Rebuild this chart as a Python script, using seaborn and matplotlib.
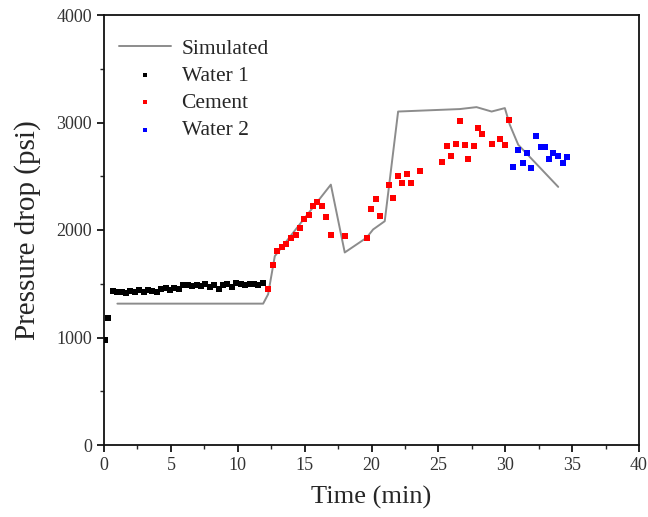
import matplotlib
matplotlib.use("Agg")
import matplotlib.pyplot as plt
import seaborn as sns
import pandas as pd
from matplotlib.ticker import MultipleLocator

# ---- data ----
sim_t = [1.0, 11.9, 12.27, 12.77, 16.96, 18.0, 19.63, 20.12, 20.99, 21.99, 26.6, 27.85, 28.98, 29.97, 30.34, 30.97, 33.96]
sim_p = [1315, 1315, 1402, 1757, 2422, 1791, 1928, 2005, 2082, 3102, 3125, 3143, 3102, 3134, 2979, 2793, 2401]

water1_t = [0.05, 0.3, 0.65, 0.98, 1.31, 1.64, 1.97, 2.3, 2.63, 2.96, 3.29, 3.62, 3.95, 4.28, 4.61, 4.94,
            5.27, 5.6, 5.93, 6.26, 6.59, 6.92, 7.25, 7.58, 7.91, 8.24, 8.57, 8.9, 9.23, 9.56, 9.89,
            10.22, 10.55, 10.88, 11.21, 11.54, 11.87]
water1_p = [980, 1180, 1430, 1420, 1425, 1415, 1430, 1420, 1440, 1425, 1445, 1435, 1420, 1450, 1460, 1440,
            1465, 1455, 1490, 1485, 1480, 1490, 1475, 1495, 1470, 1485, 1450, 1490, 1500, 1470, 1505,
            1495, 1490, 1500, 1495, 1485, 1505]

cement_t = [12.27, 12.64, 12.97, 13.31, 13.64, 13.96, 14.32, 14.64, 14.96, 15.31, 15.63, 15.96, 16.31, 16.63,
            16.96, 18.0, 19.65, 19.95, 20.3, 20.62, 21.29, 21.62, 21.99, 22.29, 22.62, 22.96, 23.61,
            25.28, 25.61, 25.93, 26.3, 26.6, 26.96, 27.25, 27.63, 27.95, 28.27, 28.98, 29.62, 29.95, 30.25]
cement_p = [1448, 1674, 1804, 1844, 1866, 1925, 1950, 2014, 2098, 2144, 2227, 2258, 2227, 2119,
            1950, 1943, 1925, 2200, 2290, 2134, 2416, 2299, 2506, 2438, 2524, 2438, 2552,
            2633, 2784, 2691, 2800, 3010, 2787, 2661, 2778, 2948, 2896, 2800, 2846, 2787, 3019]

water2_t = [30.59, 30.92, 31.29, 31.64, 31.91, 32.27, 32.71, 32.96, 33.26, 33.58, 33.96, 34.29, 34.58]
water2_p = [2583, 2741, 2624, 2713, 2577, 2871, 2769, 2769, 2663, 2716, 2685, 2624, 2680]

x_ticks = [0, 5, 10, 15, 20, 25, 30, 35, 40]
y_ticks = [0, 1000, 2000, 3000, 4000]

# ---- style ----
sns.set_style("ticks")
plt.rcParams["font.family"] = ["Liberation Serif", "DejaVu Serif"]

fig = plt.figure(figsize=(6.48, 5.17), dpi=100)
ax = fig.add_axes([104 / 648, 1 - 445 / 517, (639 - 104) / 648, (445 - 15) / 517])

sim_df = pd.DataFrame({"t": sim_t, "p": sim_p})
sns.lineplot(data=sim_df, x="t", y="p", ax=ax, color="#8c8c8c", linewidth=1.4,
             label="Simulated", sort=False, estimator=None)

for tt, pp, col, lab in [(water1_t, water1_p, "black", "Water 1"),
                          (cement_t, cement_p, "#ff0000", "Cement"),
                          (water2_t, water2_p, "#0000ff", "Water 2")]:
    df = pd.DataFrame({"t": tt, "p": pp})
    sns.scatterplot(data=df, x="t", y="p", ax=ax, color=col, marker="s", s=15,
                    linewidth=0, label=lab, zorder=3)

ax.set_xlim(0, 40)
ax.set_ylim(0, 4000)
ax.set_xticks(x_ticks)
ax.set_yticks(y_ticks)
ax.xaxis.set_minor_locator(MultipleLocator(2.5))
ax.yaxis.set_minor_locator(MultipleLocator(500))
ax.tick_params(axis="both", which="major", direction="out", length=5, width=1.2,
               labelsize=13, colors="black", labelcolor="#333333", top=False, right=False)
ax.tick_params(axis="both", which="minor", direction="out", length=3, width=1.0,
               top=False, right=False)
for sp in ax.spines.values():
    sp.set_visible(True)
    sp.set_linewidth(1.3)
    sp.set_color("#111111")

ax.set_xlabel("Time (min)", fontsize=19, labelpad=9)
ax.set_ylabel("Pressure drop (psi)", fontsize=21, labelpad=11)

leg = ax.legend(loc="upper left", frameon=False, fontsize=15.5, handlelength=2.4,
                handletextpad=0.5, labelspacing=0.33, borderaxespad=0.3,
                bbox_to_anchor=(0.0, 0.98), markerscale=0.7)

fig.savefig("out.png", dpi=100)
